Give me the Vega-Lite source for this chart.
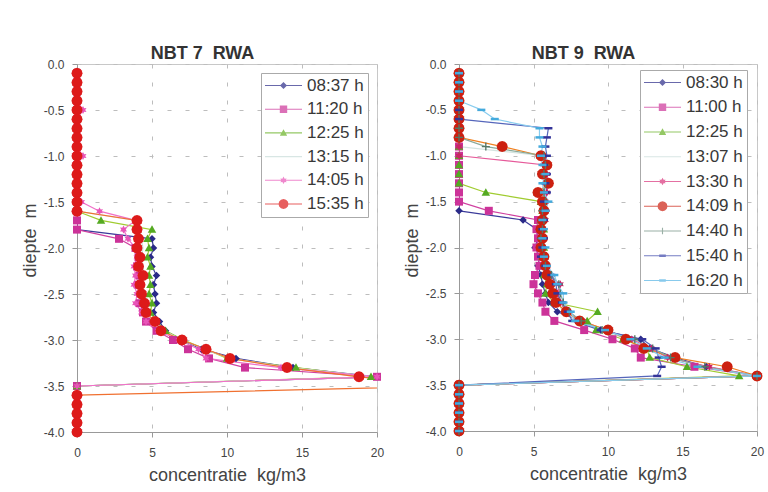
{
  "$schema": "https://vega.github.io/schema/vega-lite/v6.json",
  "background": "white",
  "padding": {"left": 20, "top": 44, "right": 0, "bottom": 0},
  "spacing": 17,
  "config": {
    "font": "Liberation Sans",
    "view": {"stroke": "#c8c8c8", "strokeWidth": 1},
    "axis": {
      "labelFont": "Liberation Sans", "labelFontSize": 12, "labelColor": "#444",
      "titleFont": "Liberation Sans", "titleFontSize": 18, "titleFontWeight": "normal", "titleColor": "#444",
      "tickColor": "#999", "tickSize": 5, "domainColor": "#999",
      "grid": true, "gridColor": "#bdbdbd", "gridDash": [4, 14],
      "labelFlush": false, "labelOverlap": false, "labelBound": false
    },
    "title": {"font": "Liberation Sans", "fontSize": 18, "fontWeight": "bold", "color": "#333", "offset": -5, "frame": "bounds", "anchor": "middle"},
    "legend": {"title": null, "orient": "none", "labelFont": "Liberation Sans", "labelFontSize": 17, "labelColor": "#383838", "symbolSize": 1369, "clipHeight": 17, "padding": 4, "labelOffset": 5, "strokeColor": "#aaa", "fillColor": "white", "symbolStrokeWidth": 0}
  },
  "datasets": {
    "n7": [
      {"d": -0.1, "08:37 h": 0, "11:20 h": 0, "12:25 h": 0, "13:15 h": 0, "14:05 h": 0, "15:35 h": 0},
      {"d": -0.2, "08:37 h": 0, "11:20 h": 0, "12:25 h": 0, "13:15 h": 0, "14:05 h": 0, "15:35 h": 0},
      {"d": -0.3, "08:37 h": 0, "11:20 h": 0, "12:25 h": 0, "13:15 h": 0, "14:05 h": 0, "15:35 h": 0},
      {"d": -0.4, "08:37 h": 0, "11:20 h": 0, "12:25 h": 0, "13:15 h": 0, "14:05 h": 0, "15:35 h": 0},
      {"d": -0.5, "08:37 h": 0, "11:20 h": 0, "12:25 h": 0, "13:15 h": 0, "14:05 h": 0.4, "15:35 h": 0},
      {"d": -0.6, "08:37 h": 0, "11:20 h": 0, "12:25 h": 0, "13:15 h": 0, "14:05 h": 0, "15:35 h": 0},
      {"d": -0.7, "08:37 h": 0, "11:20 h": 0, "12:25 h": 0, "13:15 h": 0, "14:05 h": 0, "15:35 h": 0},
      {"d": -0.8, "08:37 h": 0, "11:20 h": 0, "12:25 h": 0, "13:15 h": 0, "14:05 h": 0, "15:35 h": 0},
      {"d": -0.9, "08:37 h": 0, "11:20 h": 0, "12:25 h": 0, "13:15 h": 0, "14:05 h": 0, "15:35 h": 0},
      {"d": -1.0, "08:37 h": 0, "11:20 h": 0, "12:25 h": 0, "13:15 h": 0, "14:05 h": 0.4, "15:35 h": 0},
      {"d": -1.1, "08:37 h": 0, "11:20 h": 0, "12:25 h": 0, "13:15 h": 0, "14:05 h": 0, "15:35 h": 0},
      {"d": -1.2, "08:37 h": 0, "11:20 h": 0, "12:25 h": 0, "13:15 h": 0, "14:05 h": 0, "15:35 h": 0},
      {"d": -1.3, "08:37 h": 0, "11:20 h": 0, "12:25 h": 0, "13:15 h": 0, "14:05 h": 0, "15:35 h": 0},
      {"d": -1.4, "08:37 h": 0, "11:20 h": 0, "12:25 h": 0, "13:15 h": 0, "14:05 h": 0, "15:35 h": 0},
      {"d": -1.5, "08:37 h": 0, "11:20 h": 0, "12:25 h": 0, "13:15 h": 0, "14:05 h": 0.3, "15:35 h": 0},
      {"d": -1.6, "08:37 h": 0, "11:20 h": 0, "12:25 h": 0, "13:15 h": 0, "14:05 h": 1.5, "15:35 h": 0},
      {"d": -1.7, "08:37 h": 0, "11:20 h": 0, "12:25 h": 1.6, "13:15 h": 3.9, "14:05 h": 3.9, "15:35 h": 4.0},
      {"d": -1.8, "08:37 h": 0, "11:20 h": 0, "12:25 h": 5.0, "13:15 h": 4.2, "14:05 h": 3.1, "15:35 h": 4.0},
      {"d": -1.9, "08:37 h": 5.0, "11:20 h": 2.8, "12:25 h": 4.7, "13:15 h": 4.3, "14:05 h": 3.4, "15:35 h": 4.1},
      {"d": -2.0, "08:37 h": 5.1, "11:20 h": 3.9, "12:25 h": 4.8, "13:15 h": 4.4, "14:05 h": 3.9, "15:35 h": 4.0},
      {"d": -2.1, "08:37 h": 4.9, "11:20 h": 4.1, "12:25 h": 4.7, "13:15 h": 4.3, "14:05 h": 4.0, "15:35 h": 4.2},
      {"d": -2.2, "08:37 h": 5.0, "11:20 h": 4.0, "12:25 h": 4.9, "13:15 h": 4.4, "14:05 h": 3.8, "15:35 h": 4.1},
      {"d": -2.3, "08:37 h": 5.3, "11:20 h": 4.2, "12:25 h": 4.8, "13:15 h": 4.5, "14:05 h": 3.9, "15:35 h": 4.4},
      {"d": -2.4, "08:37 h": 5.1, "11:20 h": 4.1, "12:25 h": 4.9, "13:15 h": 4.4, "14:05 h": 3.8, "15:35 h": 4.2},
      {"d": -2.5, "08:37 h": 5.2, "11:20 h": 4.3, "12:25 h": 4.8, "13:15 h": 4.5, "14:05 h": 4.0, "15:35 h": 4.3},
      {"d": -2.6, "08:37 h": 5.3, "11:20 h": 4.2, "12:25 h": 5.0, "13:15 h": 4.6, "14:05 h": 3.9, "15:35 h": 4.5},
      {"d": -2.7, "08:37 h": 5.1, "11:20 h": 4.4, "12:25 h": 4.9, "13:15 h": 4.7, "14:05 h": 4.3, "15:35 h": 4.6},
      {"d": -2.8, "08:37 h": 5.5, "11:20 h": 4.6, "12:25 h": 5.3, "13:15 h": 5.0, "14:05 h": 4.6, "15:35 h": 5.2},
      {"d": -2.9, "08:37 h": 5.9, "11:20 h": 5.3, "12:25 h": 5.9, "13:15 h": 5.8, "14:05 h": 5.4, "15:35 h": 5.6},
      {"d": -3.0, "08:37 h": 7.0, "11:20 h": 6.4, "12:25 h": 7.1, "13:15 h": 7.0, "14:05 h": 6.8, "15:35 h": 7.0},
      {"d": -3.1, "08:37 h": 8.3, "11:20 h": 7.4, "12:25 h": 8.6, "13:15 h": 8.5, "14:05 h": 8.1, "15:35 h": 8.6},
      {"d": -3.2, "08:37 h": 10.6, "11:20 h": 8.8, "12:25 h": 10.0, "13:15 h": 10.2, "14:05 h": 8.6, "15:35 h": 10.2},
      {"d": -3.3, "08:37 h": 14.4, "11:20 h": 11.2, "12:25 h": 14.6, "13:15 h": 14.2, "14:05 h": 13.6, "15:35 h": 14.0},
      {"d": -3.4, "08:37 h": 20.0, "11:20 h": 20.0, "12:25 h": 19.6, "13:15 h": 19.8, "14:05 h": 20.0, "15:35 h": 18.8},
      {"d": -3.5, "08:37 h": 0, "11:20 h": 0, "12:25 h": 0, "13:15 h": 0, "14:05 h": 0, "15:35 h": 25.0},
      {"d": -3.6, "08:37 h": 0, "11:20 h": 0, "12:25 h": 0, "13:15 h": 0, "14:05 h": 0, "15:35 h": 0},
      {"d": -3.7, "08:37 h": 0, "11:20 h": 0, "12:25 h": 0, "13:15 h": 0, "14:05 h": 0, "15:35 h": 0},
      {"d": -3.8, "08:37 h": 0, "11:20 h": 0, "12:25 h": 0, "13:15 h": 0, "14:05 h": 0, "15:35 h": 0},
      {"d": -3.9, "08:37 h": 0, "11:20 h": 0, "12:25 h": 0, "13:15 h": 0, "14:05 h": 0, "15:35 h": 0},
      {"d": -4.0, "08:37 h": 0, "11:20 h": 0, "12:25 h": 0, "13:15 h": 0, "14:05 h": 0, "15:35 h": 0}
    ],
    "n9": [
      {"d": -0.1, "08:30 h": 0, "11:00 h": 0, "12:25 h": 0, "13:07 h": 0, "13:30 h": 0, "14:09 h": 0, "14:40 h": 0, "15:40 h": 0, "16:20 h": 0},
      {"d": -0.2, "08:30 h": 0, "11:00 h": 0, "12:25 h": 0, "13:07 h": 0, "13:30 h": 0, "14:09 h": 0, "14:40 h": 0, "15:40 h": 0, "16:20 h": 0},
      {"d": -0.3, "08:30 h": 0, "11:00 h": 0, "12:25 h": 0, "13:07 h": 0, "13:30 h": 0, "14:09 h": 0, "14:40 h": 0, "15:40 h": 0, "16:20 h": 0},
      {"d": -0.4, "08:30 h": 0, "11:00 h": 0, "12:25 h": 0, "13:07 h": 0, "13:30 h": 0, "14:09 h": 0, "14:40 h": 0, "15:40 h": 0, "16:20 h": 0},
      {"d": -0.5, "08:30 h": 0, "11:00 h": 0, "12:25 h": 0, "13:07 h": 0, "13:30 h": 0, "14:09 h": 0, "14:40 h": 0, "15:40 h": 0, "16:20 h": 1.5},
      {"d": -0.6, "08:30 h": 0, "11:00 h": 0, "12:25 h": 0, "13:07 h": 0, "13:30 h": 0, "14:09 h": 0, "14:40 h": 0, "15:40 h": 0, "16:20 h": 2.4},
      {"d": -0.7, "08:30 h": 0, "11:00 h": 0, "12:25 h": 0, "13:07 h": 0, "13:30 h": 0, "14:09 h": 0, "14:40 h": 0, "15:40 h": 6.0, "16:20 h": 5.4},
      {"d": -0.8, "08:30 h": 0, "11:00 h": 0, "12:25 h": 0, "13:07 h": 0, "13:30 h": 0, "14:09 h": 0, "14:40 h": 0, "15:40 h": 5.9, "16:20 h": 5.4},
      {"d": -0.9, "08:30 h": 0, "11:00 h": 0, "12:25 h": 0, "13:07 h": 0, "13:30 h": 0, "14:09 h": 2.9, "14:40 h": 1.8, "15:40 h": 5.8, "16:20 h": 5.6},
      {"d": -1.0, "08:30 h": 0, "11:00 h": 0, "12:25 h": 0, "13:07 h": 5.6, "13:30 h": 0, "14:09 h": 5.5, "14:40 h": 5.7, "15:40 h": 5.9, "16:20 h": 5.5},
      {"d": -1.1, "08:30 h": 0, "11:00 h": 0, "12:25 h": 0, "13:07 h": 5.8, "13:30 h": 5.8, "14:09 h": 5.9, "14:40 h": 5.8, "15:40 h": 5.7, "16:20 h": 5.6},
      {"d": -1.2, "08:30 h": 0, "11:00 h": 0, "12:25 h": 0, "13:07 h": 5.7, "13:30 h": 5.9, "14:09 h": 5.6, "14:40 h": 5.7, "15:40 h": 5.9, "16:20 h": 5.8},
      {"d": -1.3, "08:30 h": 0, "11:00 h": 0, "12:25 h": 0, "13:07 h": 5.9, "13:30 h": 6.0, "14:09 h": 6.0, "14:40 h": 5.8, "15:40 h": 5.8, "16:20 h": 5.6},
      {"d": -1.4, "08:30 h": 0, "11:00 h": 0, "12:25 h": 1.8, "13:07 h": 5.8, "13:30 h": 5.9, "14:09 h": 5.3, "14:40 h": 5.7, "15:40 h": 5.9, "16:20 h": 5.7},
      {"d": -1.5, "08:30 h": 0, "11:00 h": 0, "12:25 h": 5.5, "13:07 h": 5.6, "13:30 h": 5.8, "14:09 h": 5.6, "14:40 h": 5.8, "15:40 h": 5.7, "16:20 h": 6.0},
      {"d": -1.6, "08:30 h": 0, "11:00 h": 2.0, "12:25 h": 5.6, "13:07 h": 5.7, "13:30 h": 5.7, "14:09 h": 5.7, "14:40 h": 5.6, "15:40 h": 5.8, "16:20 h": 5.8},
      {"d": -1.7, "08:30 h": 4.3, "11:00 h": 5.3, "12:25 h": 5.5, "13:07 h": 5.6, "13:30 h": 5.8, "14:09 h": 5.6, "14:40 h": 5.7, "15:40 h": 5.7, "16:20 h": 5.6},
      {"d": -1.8, "08:30 h": 5.2, "11:00 h": 5.2, "12:25 h": 5.7, "13:07 h": 5.7, "13:30 h": 5.6, "14:09 h": 5.5, "14:40 h": 5.6, "15:40 h": 5.6, "16:20 h": 5.7},
      {"d": -1.9, "08:30 h": 5.3, "11:00 h": 5.3, "12:25 h": 5.6, "13:07 h": 5.6, "13:30 h": 5.7, "14:09 h": 5.6, "14:40 h": 5.5, "15:40 h": 5.7, "16:20 h": 5.6},
      {"d": -2.0, "08:30 h": 5.1, "11:00 h": 5.2, "12:25 h": 5.7, "13:07 h": 5.7, "13:30 h": 5.6, "14:09 h": 5.5, "14:40 h": 5.6, "15:40 h": 5.6, "16:20 h": 5.8},
      {"d": -2.1, "08:30 h": 5.4, "11:00 h": 5.3, "12:25 h": 5.6, "13:07 h": 5.8, "13:30 h": 5.8, "14:09 h": 5.7, "14:40 h": 5.7, "15:40 h": 5.5, "16:20 h": 5.7},
      {"d": -2.2, "08:30 h": 5.3, "11:00 h": 5.4, "12:25 h": 5.8, "13:07 h": 5.7, "13:30 h": 5.9, "14:09 h": 5.8, "14:40 h": 5.8, "15:40 h": 5.8, "16:20 h": 5.9},
      {"d": -2.3, "08:30 h": 5.5, "11:00 h": 5.1, "12:25 h": 5.7, "13:07 h": 5.9, "13:30 h": 6.0, "14:09 h": 5.9, "14:40 h": 6.2, "15:40 h": 6.2, "16:20 h": 6.4},
      {"d": -2.4, "08:30 h": 5.6, "11:00 h": 5.0, "12:25 h": 5.9, "13:07 h": 6.3, "13:30 h": 6.8, "14:09 h": 6.1, "14:40 h": 6.7, "15:40 h": 6.5, "16:20 h": 6.6},
      {"d": -2.5, "08:30 h": 5.8, "11:00 h": 5.3, "12:25 h": 5.8, "13:07 h": 6.4, "13:30 h": 6.6, "14:09 h": 6.3, "14:40 h": 6.8, "15:40 h": 6.6, "16:20 h": 7.0},
      {"d": -2.6, "08:30 h": 6.0, "11:00 h": 5.6, "12:25 h": 6.4, "13:07 h": 6.6, "13:30 h": 6.8, "14:09 h": 6.5, "14:40 h": 7.0, "15:40 h": 6.9, "16:20 h": 7.0},
      {"d": -2.7, "08:30 h": 6.6, "11:00 h": 5.8, "12:25 h": 9.3, "13:07 h": 7.0, "13:30 h": 7.2, "14:09 h": 7.2, "14:40 h": 7.4, "15:40 h": 7.3, "16:20 h": 7.5},
      {"d": -2.8, "08:30 h": 8.2, "11:00 h": 6.4, "12:25 h": 8.6, "13:07 h": 8.0, "13:30 h": 8.3, "14:09 h": 8.1, "14:40 h": 8.2, "15:40 h": 7.6, "16:20 h": 7.8},
      {"d": -2.9, "08:30 h": 9.5, "11:00 h": 8.4, "12:25 h": 9.2, "13:07 h": 9.4, "13:30 h": 9.8, "14:09 h": 10.0, "14:40 h": 9.6, "15:40 h": 9.5, "16:20 h": 9.8},
      {"d": -3.0, "08:30 h": 12.2, "11:00 h": 10.3, "12:25 h": 11.0, "13:07 h": 11.3, "13:30 h": 11.6, "14:09 h": 11.2, "14:40 h": 11.8, "15:40 h": 12.3, "16:20 h": 11.5},
      {"d": -3.1, "08:30 h": 12.8, "11:00 h": 11.8, "12:25 h": 12.6, "13:07 h": 12.8, "13:30 h": 12.9, "14:09 h": 12.4, "14:40 h": 13.0, "15:40 h": 13.2, "16:20 h": 12.6},
      {"d": -3.2, "08:30 h": 14.5, "11:00 h": 12.2, "12:25 h": 12.8, "13:07 h": 14.2, "13:30 h": 14.0, "14:09 h": 14.5, "14:40 h": 14.2, "15:40 h": 13.4, "16:20 h": 13.8},
      {"d": -3.3, "08:30 h": 16.6, "11:00 h": 15.8, "12:25 h": 15.3, "13:07 h": 16.4, "13:30 h": 16.8, "14:09 h": 18.0, "14:40 h": 16.5, "15:40 h": 13.6, "16:20 h": 16.0},
      {"d": -3.4, "08:30 h": 20.0, "11:00 h": 20.0, "12:25 h": 18.8, "13:07 h": 20.0, "13:30 h": 20.0, "14:09 h": 20.0, "14:40 h": 20.0, "15:40 h": 13.3, "16:20 h": 20.0},
      {"d": -3.5, "08:30 h": 0, "11:00 h": 0, "12:25 h": 0, "13:07 h": 0, "13:30 h": 0, "14:09 h": 0, "14:40 h": 0, "15:40 h": 0, "16:20 h": 0},
      {"d": -3.6, "08:30 h": 0, "11:00 h": 0, "12:25 h": 0, "13:07 h": 0, "13:30 h": 0, "14:09 h": 0, "14:40 h": 0, "15:40 h": 0, "16:20 h": 0},
      {"d": -3.7, "08:30 h": 0, "11:00 h": 0, "12:25 h": 0, "13:07 h": 0, "13:30 h": 0, "14:09 h": 0, "14:40 h": 0, "15:40 h": 0, "16:20 h": 0},
      {"d": -3.8, "08:30 h": 0, "11:00 h": 0, "12:25 h": 0, "13:07 h": 0, "13:30 h": 0, "14:09 h": 0, "14:40 h": 0, "15:40 h": 0, "16:20 h": 0},
      {"d": -3.9, "08:30 h": 0, "11:00 h": 0, "12:25 h": 0, "13:07 h": 0, "13:30 h": 0, "14:09 h": 0, "14:40 h": 0, "15:40 h": 0, "16:20 h": 0},
      {"d": -4.0, "08:30 h": 0, "11:00 h": 0, "12:25 h": 0, "13:07 h": 0, "13:30 h": 0, "14:09 h": 0, "14:40 h": 0, "15:40 h": 0, "16:20 h": 0}
    ]
  },
  "hconcat": [
    {
      "width": 300, "height": 368,
      "title": {"text": "NBT 7\u00a0\u00a0RWA"},
      "data": {"name": "n7"},
      "transform": [{"fold": ["08:37 h", "11:20 h", "12:25 h", "13:15 h", "14:05 h", "15:35 h"], "as": ["s", "x"]}],
      "encoding": {
        "x": {"field": "x", "type": "quantitative", "scale": {"domain": [0, 20], "nice": false, "zero": false}, "axis": {"values": [0, 5, 10, 15, 20], "title": "concentratie\u00a0\u00a0kg/m3", "labelPadding": 10, "titlePadding": 8}},
        "y": {"field": "d", "type": "quantitative", "scale": {"domain": [-4, 0], "nice": false, "zero": false}, "axis": {"values": [0, -0.5, -1, -1.5, -2, -2.5, -3, -3.5, -4], "title": "diepte\u00a0\u00a0m", "titleY": 176, "labelExpr": "replace(format(datum.value, '.1f'), '\u2212', '-')", "labelPadding": 8, "titlePadding": 4}}
      },
      "layer": [
        {
          "mark": {"type": "line", "clip": true, "strokeWidth": 1.2},
          "encoding": {
            "stroke": {"field": "s", "type": "nominal", "scale": {"domain": ["08:37 h", "11:20 h", "12:25 h", "13:15 h", "14:05 h", "15:35 h"], "range": ["#3a3a9a", "#d040a0", "#a0cc30", "#d4e4e0", "#f070c8", "#f07030"]}, "legend": null},
            "order": {"field": "d", "sort": "descending"}
          }
        },
        {
          "transform": [{"filter": "datum.x <= 20"}],
          "mark": {"type": "point", "filled": true, "clip": false, "opacity": 1, "size": 100},
          "encoding": {
            "fill": {"field": "s", "type": "nominal", "scale": {"domain": ["08:37 h", "11:20 h", "12:25 h", "13:15 h", "14:05 h", "15:35 h"], "range": ["#2a2a88", "#cc3399", "#55aa22", "#d4e4e0", "#e855b8", "#dd1a1a"]}, "legend": null},
            "shape": {"field": "s", "type": "nominal", "scale": {"domain": ["08:37 h", "11:20 h", "12:25 h", "13:15 h", "14:05 h", "15:35 h"], "range": ["M0,-0.75L0.75,0L0,0.75L-0.75,0Z", "M-0.8,-0.8H0.8V0.8H-0.8Z", "M0,-0.85L0.85,0.65H-0.85Z", "M0,0L0.01,0L0,0.01Z", "M0,-0.8L0.24,-0.36L0.7,-0.4L0.44,0L0.7,0.4L0.24,0.36L0,0.8L-0.24,0.36L-0.7,0.4L-0.44,0L-0.7,-0.4L-0.24,-0.36Z", "M1.1,0L0.953,0.55L0.55,0.953L0,1.1L-0.55,0.953L-0.953,0.55L-1.1,0L-0.953,-0.55L-0.55,-0.953L0,-1.1L0.55,-0.953L0.953,-0.55Z"]}, "legend": null},
            "order": {"field": "s", "sort": "ascending"}
          }
        },
        {
          "transform": [{"filter": "datum.d > 1"}],
          "mark": {"type": "point", "filled": true},
          "encoding": {
            "color": {"field": "s", "type": "nominal", "scale": {"domain": ["08:37 h", "11:20 h", "12:25 h", "13:15 h", "14:05 h", "15:35 h"], "range": ["#2a2a88", "#cc3399", "#66b022", "#c8dcd8", "#e855b8", "#dd1a1a"]}, "legend": {"legendX": 184, "legendY": 9, "rowPadding": 5.7}},
            "shape": {"field": "s", "type": "nominal", "scale": {"domain": ["08:37 h", "11:20 h", "12:25 h", "13:15 h", "14:05 h", "15:35 h"], "range": [
              "M-1,-0.03H1V0.03H-1ZM0,-0.19L0.19,0L0,0.19L-0.19,0Z",
              "M-1,-0.03H1V0.03H-1ZM-0.2,-0.2H0.2V0.2H-0.2Z",
              "M-1,-0.03H1V0.03H-1ZM0,-0.2L0.2,0.16H-0.2Z",
              "M-1,-0.03H1V0.03H-1Z",
              "M-1,-0.03H1V0.03H-1ZM0,-0.2L0.06,-0.09L0.17,-0.1L0.11,0L0.17,0.1L0.06,0.09L0,0.2L-0.06,0.09L-0.17,0.1L-0.11,0L-0.17,-0.1L-0.06,-0.09Z",
              "M-1,-0.03H1V0.03H-1ZM0.27,0L0.234,0.135L0.135,0.234L0,0.27L-0.135,0.234L-0.234,0.135L-0.27,0L-0.234,-0.135L-0.135,-0.234L0,-0.27L0.135,-0.234L0.234,-0.135Z"
            ]}, "legend": {"legendX": 184, "legendY": 9, "rowPadding": 5.7}}
          }
        }
      ],
      "resolve": {"scale": {"shape": "independent", "color": "independent"}}
    },
    {
      "width": 298, "height": 367,
      "title": {"text": "NBT 9\u00a0\u00a0RWA"},
      "data": {"name": "n9"},
      "transform": [{"fold": ["08:30 h", "11:00 h", "12:25 h", "13:07 h", "13:30 h", "14:09 h", "14:40 h", "15:40 h", "16:20 h"], "as": ["s", "x"]}],
      "encoding": {
        "x": {"field": "x", "type": "quantitative", "scale": {"domain": [0, 20], "nice": false, "zero": false}, "axis": {"values": [0, 5, 10, 15, 20], "title": "concentratie\u00a0\u00a0kg/m3", "labelPadding": 10, "titlePadding": 8}},
        "y": {"field": "d", "type": "quantitative", "scale": {"domain": [-4, 0], "nice": false, "zero": false}, "axis": {"values": [0, -0.5, -1, -1.5, -2, -2.5, -3, -3.5, -4], "title": "diepte\u00a0\u00a0m", "titleY": 176, "labelExpr": "replace(format(datum.value, '.1f'), '\u2212', '-')", "labelPadding": 8, "titlePadding": 4}}
      },
      "layer": [
        {
          "mark": {"type": "line", "clip": true, "strokeWidth": 1.2},
          "encoding": {
            "stroke": {"field": "s", "type": "nominal", "scale": {"domain": ["08:30 h", "11:00 h", "12:25 h", "13:07 h", "13:30 h", "14:09 h", "14:40 h", "15:40 h", "16:20 h"], "range": ["#3a3a9a", "#d040a0", "#a0cc30", "#d4e4e0", "#e65a9a", "#f08020", "#8aaa9a", "#5566bb", "#88ccee"]}, "legend": null},
            "order": {"field": "d", "sort": "descending"}
          }
        },
        {
          "transform": [{"filter": "datum.x <= 20"}],
          "mark": {"type": "point", "filled": true, "clip": false, "opacity": 1, "size": 100},
          "encoding": {
            "fill": {"field": "s", "type": "nominal", "scale": {"domain": ["08:30 h", "11:00 h", "12:25 h", "13:07 h", "13:30 h", "14:09 h", "14:40 h", "15:40 h", "16:20 h"], "range": ["#2a2a88", "#cc3399", "#55aa22", "#d4e4e0", "#cc2266", "#cc2010", "#557766", "#333399", "#44aadd"]}, "legend": null},
            "shape": {"field": "s", "type": "nominal", "scale": {"domain": ["08:30 h", "11:00 h", "12:25 h", "13:07 h", "13:30 h", "14:09 h", "14:40 h", "15:40 h", "16:20 h"], "range": ["M0,-0.75L0.75,0L0,0.75L-0.75,0Z", "M-0.8,-0.8H0.8V0.8H-0.8Z", "M0,-0.85L0.85,0.65H-0.85Z", "M0,0L0.01,0L0,0.01Z", "M0,-0.8L0.24,-0.36L0.7,-0.4L0.44,0L0.7,0.4L0.24,0.36L0,0.8L-0.24,0.36L-0.7,0.4L-0.44,0L-0.7,-0.4L-0.24,-0.36Z", "M1.1,0L0.953,0.55L0.55,0.953L0,1.1L-0.55,0.953L-0.953,0.55L-1.1,0L-0.953,-0.55L-0.55,-0.953L0,-1.1L0.55,-0.953L0.953,-0.55Z", "M-0.8,-0.14H0.8V0.14H-0.8ZM-0.14,-0.8H0.14V0.8H-0.14Z", "M-0.8,-0.25H0.8V0.25H-0.8Z", "M-0.8,-0.25H0.8V0.25H-0.8Z"]}, "legend": null},
            "order": {"field": "s", "sort": "ascending"}
          }
        },
        {
          "transform": [{"filter": "datum.d > 1"}],
          "mark": {"type": "point", "filled": true},
          "encoding": {
            "color": {"field": "s", "type": "nominal", "scale": {"domain": ["08:30 h", "11:00 h", "12:25 h", "13:07 h", "13:30 h", "14:09 h", "14:40 h", "15:40 h", "16:20 h"], "range": ["#2a2a88", "#cc3399", "#66b022", "#c8dcd8", "#d8337a", "#cc2010", "#6f8f80", "#3a44aa", "#55b4e4"]}, "legend": {"legendX": 181, "legendY": 6, "rowPadding": 6.75}},
            "shape": {"field": "s", "type": "nominal", "scale": {"domain": ["08:30 h", "11:00 h", "12:25 h", "13:07 h", "13:30 h", "14:09 h", "14:40 h", "15:40 h", "16:20 h"], "range": [
              "M-1,-0.03H1V0.03H-1ZM0,-0.19L0.19,0L0,0.19L-0.19,0Z",
              "M-1,-0.03H1V0.03H-1ZM-0.2,-0.2H0.2V0.2H-0.2Z",
              "M-1,-0.03H1V0.03H-1ZM0,-0.2L0.2,0.16H-0.2Z",
              "M-1,-0.03H1V0.03H-1Z",
              "M-1,-0.03H1V0.03H-1ZM0,-0.2L0.06,-0.09L0.17,-0.1L0.11,0L0.17,0.1L0.06,0.09L0,0.2L-0.06,0.09L-0.17,0.1L-0.11,0L-0.17,-0.1L-0.06,-0.09Z",
              "M-1,-0.03H1V0.03H-1ZM0.27,0L0.234,0.135L0.135,0.234L0,0.27L-0.135,0.234L-0.234,0.135L-0.27,0L-0.234,-0.135L-0.135,-0.234L0,-0.27L0.135,-0.234L0.234,-0.135Z",
              "M-1,-0.03H1V0.03H-1ZM-0.03,-0.18H0.03V0.18H-0.03Z",
              "M-1,-0.03H1V0.03H-1ZM-0.18,-0.07H0.18V0.07H-0.18Z",
              "M-1,-0.03H1V0.03H-1ZM-0.18,-0.07H0.18V0.07H-0.18Z"
            ]}, "legend": {"legendX": 181, "legendY": 6, "rowPadding": 6.75}}
          }
        }
      ],
      "resolve": {"scale": {"shape": "independent", "color": "independent"}}
    }
  ],
  "resolve": {"scale": {"color": "independent", "shape": "independent", "fill": "independent", "stroke": "independent", "x": "independent", "y": "independent"}}
}
